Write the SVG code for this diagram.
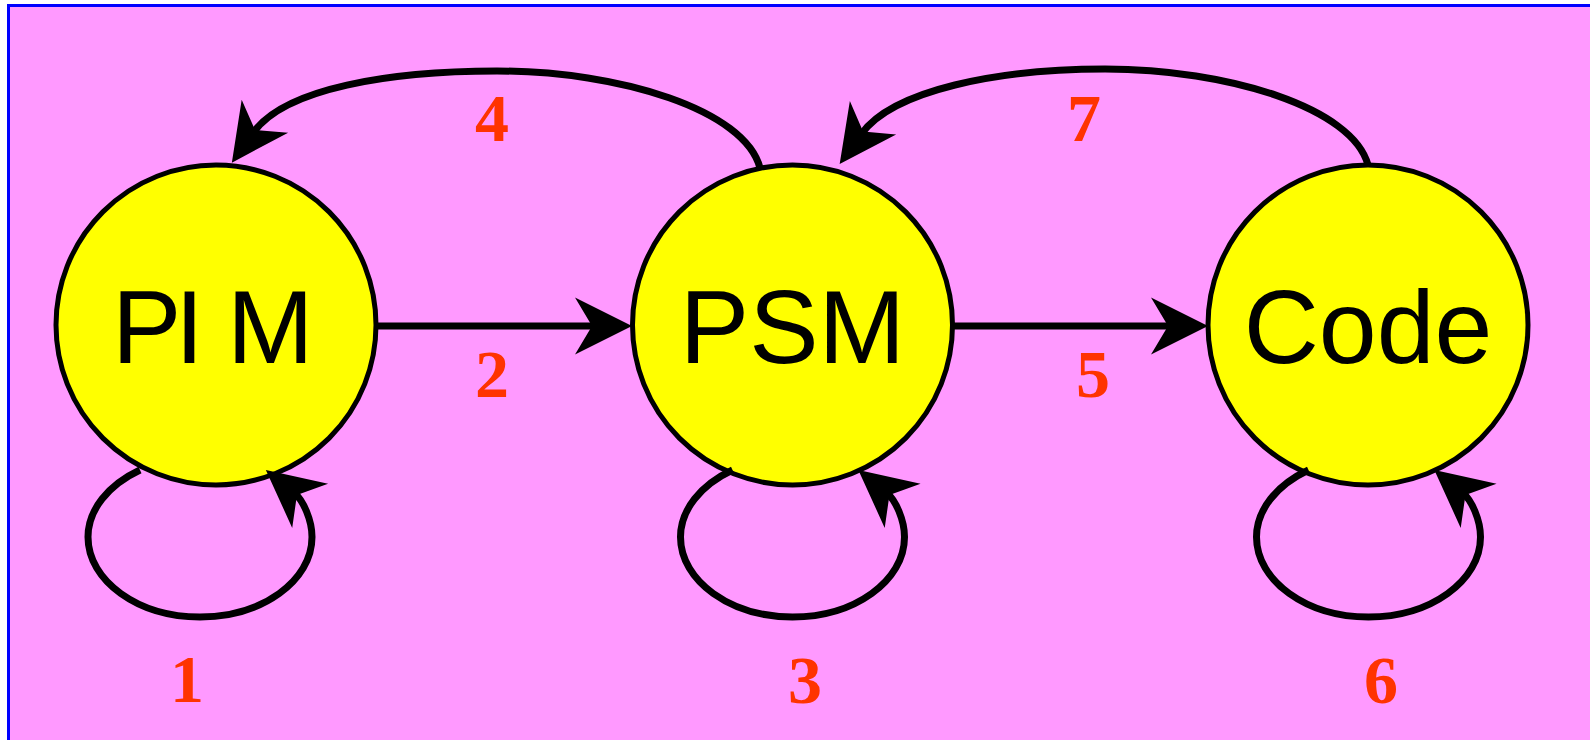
<svg xmlns="http://www.w3.org/2000/svg" width="1590" height="740" viewBox="0 0 1590 740">
<style>
.node{fill:#ffff00;stroke:#000;stroke-width:5}
.ntxt{font-family:"Liberation Sans",Arial,sans-serif;font-size:104px;fill:#000}
.conn{fill:none;stroke:#000;stroke-width:7;marker-end:url(#ah)}
.lbl{font-family:"Liberation Serif","Times New Roman",serif;font-weight:bold;font-size:68px;fill:#ff3300;text-anchor:middle}
</style>
<defs>
<marker id="ah" markerUnits="userSpaceOnUse" markerWidth="10" markerHeight="10" refX="0" refY="0" orient="auto" overflow="visible">
<path d="M37,0 L-20,-28.5 L-3,0 L-20,28.5 Z" fill="#000"/>
</marker>
</defs>
<rect x="0" y="0" width="1590" height="740" fill="#ffffff"/>
<rect x="8.5" y="5.5" width="1600" height="800" fill="#ff99ff" stroke="#0000ff" stroke-width="3"/>
<g id="node-pim">
<circle class="node" cx="216" cy="325" r="160"/>
<text class="ntxt" x="112 175 227" y="363">PIM</text>
</g>
<g id="node-psm">
<circle class="node" cx="792.5" cy="325" r="160"/>
<text class="ntxt" x="792.5" y="363" text-anchor="middle">PSM</text>
</g>
<g id="node-code">
<circle class="node" cx="1368" cy="325" r="160"/>
<text class="ntxt" x="1368" y="363" text-anchor="middle">Code</text>
</g>
<g id="connectors">
<path class="conn" d="M140,470 C108,485 88,510 88,537 C88,581 138,617 200,617 C262,617 312,581 312,537 C312,520 303,500 294.6,493.2"/>
<path class="conn" transform="translate(592.5,0)" d="M140,470 C108,485 88,510 88,537 C88,581 138,617 200,617 C262,617 312,581 312,537 C312,520 303,500 294.6,493.2"/>
<path class="conn" transform="translate(1168.5,0)" d="M140,470 C108,485 88,510 88,537 C88,581 138,617 200,617 C262,617 312,581 312,537 C312,520 303,500 294.6,493.2"/>
<path class="conn" d="M377,326 L595,326"/>
<path class="conn" d="M953,326 L1171,326"/>
<path class="conn" d="M760,168 C745,110 620,71 497,71 C390,71 285,88 253.3,132.5"/>
<path class="conn" d="M1368,165 C1353,108 1228,69 1105,69 C998,69 893,90 861.3,134"/>
</g>
<g id="labels">
<text class="lbl" x="187" y="702">1</text>
<text class="lbl" x="492" y="397">2</text>
<text class="lbl" x="805" y="703">3</text>
<text class="lbl" x="492" y="141">4</text>
<text class="lbl" x="1093" y="397">5</text>
<text class="lbl" x="1381" y="703">6</text>
<text class="lbl" x="1084" y="141">7</text>
</g>
</svg>
